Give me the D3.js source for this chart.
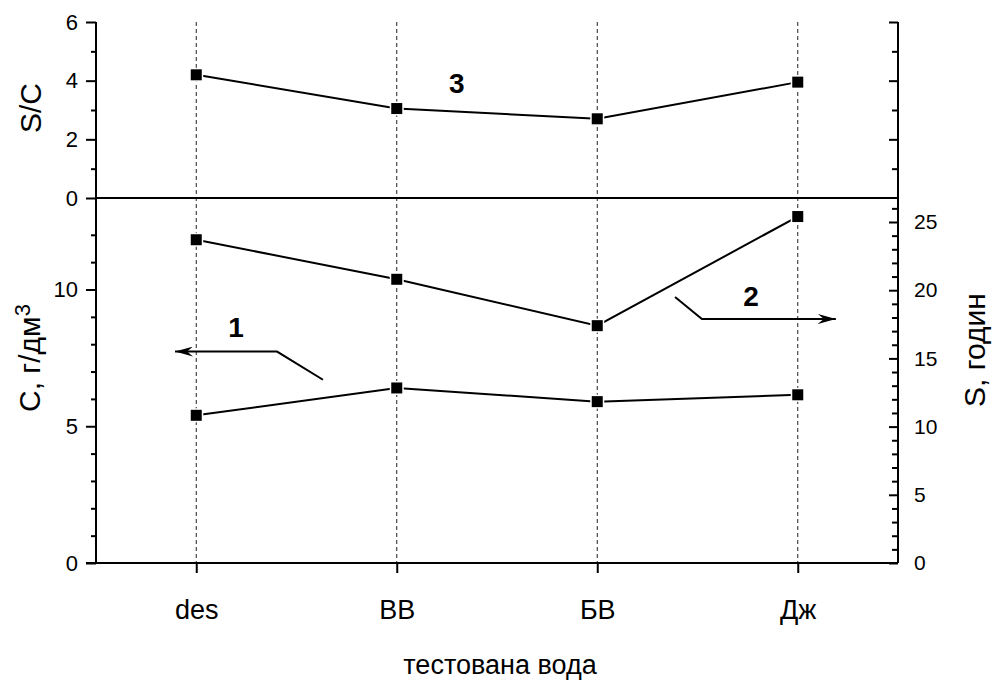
<!DOCTYPE html>
<html>
<head>
<meta charset="utf-8">
<script src="https://cdn.jsdelivr.net/npm/d3@7"></script>
<style>
  body { margin: 0; background: #fff; }
  svg { display: block; font-family: "Liberation Sans", Arial, sans-serif; }
</style>
</head>
<body>
<div id="chart"></div>
<script>
// test waters on the x axis
var categories = ["des", "ВВ", "БВ", "Дж"];
// curve 3: S/C ratio (top panel)
var ratioSC = [4.2, 3.05, 2.7, 3.95];
// curve 2: S, hours (right axis)
var timeS = [23.7, 20.8, 17.4, 25.4];
// curve 1: C, g/dm3 (left axis)
var concC = [5.4, 6.4, 5.9, 6.15];

var ticksSC = [0, 2, 4, 6], minorSC = [1, 3, 5];
var ticksC = [0, 5, 10], minorC = [1, 2, 3, 4, 6, 7, 8, 9, 11, 12];
var ticksS = [0, 5, 10, 15, 20, 25];
var minorS = [1, 2, 3, 4, 6, 7, 8, 9, 11, 12, 13, 14, 16, 17, 18, 19, 21, 22, 23, 24, 26];

// annotations: [category index, axis value]
var arrow1 = [[0.632, 6.7], [0.403, 7.73], [-0.106, 7.73]];
var arrow2 = [[2.388, 19.5], [2.522, 17.89], [3.19, 17.89]];
var labels = [
  {text: "1", idx: 0.198, v: 8.28, axis: "C"},
  {text: "2", idx: 2.767, v: 18.84, axis: "S"},
  {text: "3", idx: 1.30, v: 3.58, axis: "SC"}
];

var W = 995, H = 682;
var plotL = 96, plotR = 898, plotT = 22, plotMid = 198, plotB = 563;

var svg = d3.select("#chart").append("svg")
  .attr("width", W).attr("height", H);

svg.append("rect").attr("width", W).attr("height", H).attr("fill", "#fff");

var defs = svg.append("defs");
defs.append("marker")
  .attr("id", "head")
  .attr("viewBox", "0 0 18 10")
  .attr("refX", 18).attr("refY", 5)
  .attr("markerWidth", 18).attr("markerHeight", 10)
  .attr("markerUnits", "userSpaceOnUse")
  .attr("orient", "auto")
  .append("path")
  .attr("d", "M0,0 L18,5 L0,10 L6,5 Z")
  .attr("fill", "#000");

// scales
var x = d3.scalePoint().domain(categories).range([plotL, plotR]).padding(0.5);
var ySC = d3.scaleLinear().domain([0, 6]).range([plotMid, plotT]);
var yC = d3.scaleLinear().domain([0, 10]).range([plotB, 289.5]);
var yS = d3.scaleLinear().domain([0, 25]).range([plotB, 222]);
var scales = {SC: ySC, C: yC, S: yS};

function xIdx(i) { return x(categories[0]) + i * x.step(); }

// dashed verticals at each category
svg.append("g").selectAll("line")
  .data(categories)
  .enter().append("line")
  .attr("x1", function(d) { return x(d); })
  .attr("x2", function(d) { return x(d); })
  .attr("y1", plotT).attr("y2", plotB)
  .attr("stroke", "#222")
  .attr("stroke-width", 1)
  .attr("stroke-dasharray", "4,3");

// axes
function styleAxis(g, fs) {
  g.select(".domain").remove();
  g.selectAll(".tick line").attr("stroke", "#000").attr("stroke-width", 2);
  g.selectAll(".tick text").attr("fill", "#000").style("font-size", fs + "px");
}

svg.append("g").attr("transform", "translate(" + plotL + ",0)")
  .call(d3.axisLeft(ySC).tickValues(ticksSC).tickSize(10).tickPadding(8).tickFormat(d3.format("d")))
  .call(styleAxis, 22);
svg.append("g").attr("transform", "translate(" + plotL + ",0)")
  .call(d3.axisLeft(ySC).tickValues(minorSC).tickSize(5).tickFormat(""))
  .call(styleAxis, 22);
svg.append("g").attr("transform", "translate(" + plotL + ",0)")
  .call(d3.axisLeft(yC).tickValues(ticksC).tickSize(10).tickPadding(8))
  .call(styleAxis, 22);
svg.append("g").attr("transform", "translate(" + plotL + ",0)")
  .call(d3.axisLeft(yC).tickValues(minorC).tickSize(5).tickFormat(""))
  .call(styleAxis, 22);

svg.append("g").attr("transform", "translate(" + plotR + ",0)")
  .call(d3.axisRight(ySC).tickValues([2, 4, 6]).tickSize(-9).tickFormat(""))
  .call(styleAxis, 22);
svg.append("g").attr("transform", "translate(" + plotR + ",0)")
  .call(d3.axisRight(ySC).tickValues(minorSC).tickSize(-6).tickFormat(""))
  .call(styleAxis, 22);
svg.append("g").attr("transform", "translate(" + plotR + ",0)")
  .call(d3.axisRight(yS).tickValues(ticksS).tickSize(-9).tickPadding(16))
  .call(styleAxis, 21);
svg.append("g").attr("transform", "translate(" + plotR + ",0)")
  .call(d3.axisRight(yS).tickValues(minorS).tickSize(-6).tickFormat(""))
  .call(styleAxis, 21);

svg.append("g").attr("transform", "translate(0," + plotB + ")")
  .call(d3.axisBottom(x).tickSize(10).tickPadding(27))
  .call(styleAxis, 27);

// frame lines
var frame = svg.append("g").attr("stroke", "#000").attr("stroke-width", 2);
frame.append("line").attr("x1", plotL).attr("x2", plotL).attr("y1", plotT).attr("y2", plotB);
frame.append("line").attr("x1", plotR).attr("x2", plotR).attr("y1", plotT).attr("y2", plotB);
frame.append("line").attr("x1", plotL - 10).attr("x2", plotR).attr("y1", plotB).attr("y2", plotB);
frame.append("line").attr("x1", plotL).attr("x2", plotR).attr("y1", ySC(0)).attr("y2", ySC(0));

// series
var seriesList = [
  {values: ratioSC, y: ySC},
  {values: timeS, y: yS},
  {values: concC, y: yC}
];

seriesList.forEach(function(s) {
  var line = d3.line()
    .x(function(d, i) { return x(categories[i]); })
    .y(function(d) { return s.y(d); });
  svg.append("path")
    .datum(s.values)
    .attr("d", line)
    .attr("fill", "none")
    .attr("stroke", "#000")
    .attr("stroke-width", 2);
  svg.append("g").selectAll("rect")
    .data(s.values)
    .enter().append("rect")
    .attr("x", function(d, i) { return x(categories[i]) - 5.5; })
    .attr("y", function(d) { return s.y(d) - 5.5; })
    .attr("width", 11).attr("height", 11)
    .attr("fill", "#000")
    .attr("stroke", "#fff")
    .attr("stroke-width", 3)
    .attr("paint-order", "stroke");
});

// arrows pointing to the axes
var arrowLine = function(pts, sc) {
  return d3.line()
    .x(function(p) { return xIdx(p[0]); })
    .y(function(p) { return sc(p[1]); })(pts);
};
svg.append("path").attr("d", arrowLine(arrow1, yC))
  .attr("fill", "none").attr("stroke", "#000").attr("stroke-width", 2)
  .attr("marker-end", "url(#head)");
svg.append("path").attr("d", arrowLine(arrow2, yS))
  .attr("fill", "none").attr("stroke", "#000").attr("stroke-width", 2)
  .attr("marker-end", "url(#head)");

svg.append("g").selectAll("text")
  .data(labels)
  .enter().append("text")
  .attr("x", function(d) { return xIdx(d.idx); })
  .attr("y", function(d) { return scales[d.axis](d.v); })
  .attr("text-anchor", "middle")
  .style("font-size", "28px")
  .style("font-weight", "bold")
  .text(function(d) { return d.text; });

// axis titles
svg.append("text")
  .attr("transform", "translate(41,108) rotate(-90)")
  .attr("text-anchor", "middle")
  .style("font-size", "30px")
  .text("S/C");

var cTitle = svg.append("text")
  .attr("transform", "translate(40,358) rotate(-90)")
  .attr("text-anchor", "middle")
  .style("font-size", "30px");
cTitle.append("tspan").text("C, г/дм");
cTitle.append("tspan").attr("dy", "-0.45em").style("font-size", "22px").text("3");

svg.append("text")
  .attr("transform", "translate(985,350) rotate(-90)")
  .attr("text-anchor", "middle")
  .style("font-size", "30px")
  .text("S, годин");

svg.append("text")
  .attr("x", 500).attr("y", 674)
  .attr("text-anchor", "middle")
  .style("font-size", "27px")
  .text("тестована вода");
</script>
</body>
</html>
